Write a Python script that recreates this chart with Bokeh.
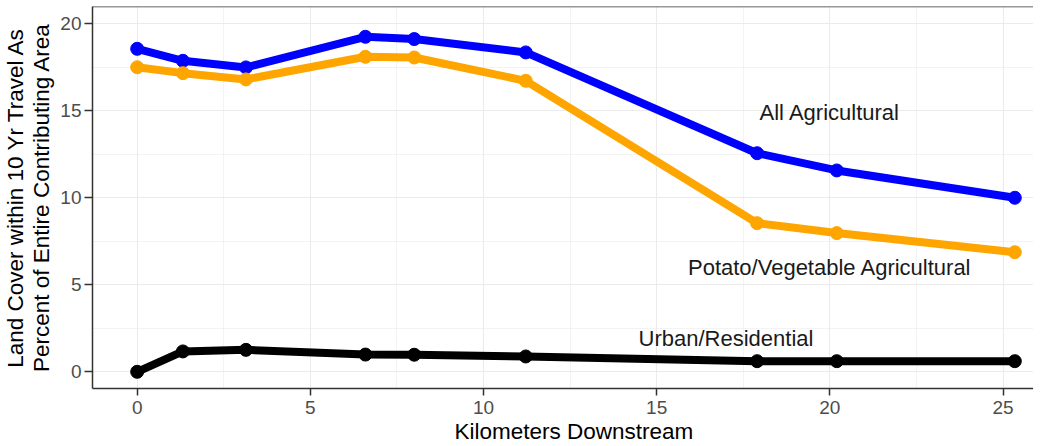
from bokeh.plotting import figure
from bokeh.models import FixedTicker, Span, ColumnDataSource, Title
from bokeh.core.properties import value
from bokeh.embed import file_html
from bokeh.resources import INLINE

# data
km = [0, 1.32, 3.14, 6.59, 8.0, 11.22, 17.9, 20.2, 25.34]
all_ag = [18.56, 17.87, 17.49, 19.25, 19.12, 18.35, 12.56, 11.57, 10.0]
potato = [17.5, 17.16, 16.8, 18.1, 18.06, 16.72, 8.54, 7.97, 6.87]
urban = [0.0, 1.17, 1.26, 0.99, 0.98, 0.88, 0.61, 0.61, 0.61]

series_names = ["All Agricultural", "Potato/Vegetable Agricultural", "Urban/Residential"]
series_colors = ["#0000FF", "#FFA500", "#000000"]

label_text = ["All Agricultural", "Potato/Vegetable Agricultural", "Urban/Residential"]
label_x = [20.0, 20.0, 17.0]
label_y = [14.9, 6.0, 1.9]

x_ticks = [0, 5, 10, 15, 20, 25]
x_minor = [2.5, 7.5, 12.5, 17.5, 22.5]
y_ticks = [0, 5, 10, 15, 20]
y_minor = [2.5, 7.5, 12.5, 17.5]

x_title = "Kilometers Downstream"
y_title = "Land Cover within 10 Yr Travel As\nPercent of Entire Contributing Area"

FONT = "Liberation Sans"

p = figure(width=1033, height=446, x_range=(-1.29, 25.88), y_range=(-0.96, 20.99),
           output_backend="svg", toolbar_location=None,
           min_border_left=85, min_border_right=0, min_border_top=6, min_border_bottom=58,
           background_fill_color="white", border_fill_color="white")
p.outline_line_color = None

for ax in (p.xaxis[0], p.yaxis[0]):
    ax.axis_line_color = "#333333"
    ax.axis_line_width = 1.5
    ax.major_tick_line_color = "#333333"
    ax.major_tick_line_width = 1.5
    ax.major_tick_in = 0
    ax.minor_tick_line_color = None
    ax.major_label_text_font = FONT
    ax.major_label_text_font_size = "19px"
    ax.major_label_text_color = "#4D4D4D"
    ax.axis_label_text_font = FONT
    ax.axis_label_text_font_size = "22.5px"
    ax.axis_label_text_font_style = "normal"
    ax.axis_label_text_color = "#000000"

p.xaxis.ticker = FixedTicker(ticks=x_ticks, minor_ticks=x_minor)
p.yaxis.ticker = FixedTicker(ticks=y_ticks, minor_ticks=y_minor)
p.xaxis.major_tick_out = 7
p.xaxis.major_label_standoff = 5
p.yaxis.major_tick_out = 8
p.yaxis.major_label_standoff = 3
p.yaxis.axis_label_standoff = 3
p.yaxis.axis_label = y_title
p.yaxis.axis_label_text_line_height = 1.05

p.add_layout(Title(text=x_title, align="left", offset=362, standoff=0,
                   text_font=FONT, text_font_size="22.5px", text_font_style="normal",
                   text_color="#000000"), "below")

for g in (p.xgrid[0], p.ygrid[0]):
    g.grid_line_color = "#EBEBEB"
    g.grid_line_width = 1.1
    g.minor_grid_line_color = "#EBEBEB"
    g.minor_grid_line_width = 0.6

p.add_layout(Span(location=20.99, dimension="width", line_color="#333333", line_width=1.5))

for vals, col in zip([all_ag, potato, urban], series_colors):
    src = ColumnDataSource(dict(x=km, y=vals))
    p.line("x", "y", source=src, line_color=col, line_width=8, line_join="round", line_cap="round")
    p.scatter("x", "y", source=src, size=13, fill_color=col, line_color=col)

lsrc = ColumnDataSource(dict(x=label_x, y=label_y, t=label_text))
p.text("x", "y", text="t", source=lsrc, text_font=value(FONT), text_font_size="22px",
       text_color="#1A1A1A", text_align="center", text_baseline="middle")

open("out.html", "w").write(file_html(p, INLINE))
